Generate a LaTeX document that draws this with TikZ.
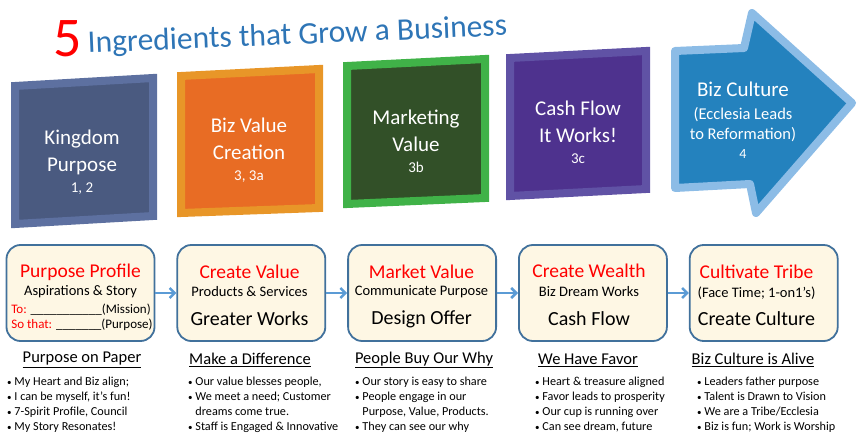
\documentclass[tikz,border=0pt]{standalone}
\usepackage{fontspec}
\setmainfont{Carlito}
\usetikzlibrary{positioning}
\usetikzlibrary{arrows.meta}

\definecolor{titleblue}{RGB}{46,117,182}
\definecolor{kpout}{RGB}{93,112,160}
\definecolor{kpin}{RGB}{74,90,128}
\definecolor{bvout}{RGB}{232,150,40}
\definecolor{bvin}{RGB}{232,108,36}
\definecolor{mvout}{RGB}{64,178,72}
\definecolor{mvin}{RGB}{50,80,40}
\definecolor{cfout}{RGB}{96,82,165}
\definecolor{cfin}{RGB}{78,50,142}
\definecolor{bcout}{RGB}{140,188,230}
\definecolor{bcin}{RGB}{36,130,190}
\definecolor{cardfill}{RGB}{254,247,228}
\definecolor{cardline}{RGB}{65,113,156}
\definecolor{flowblue}{RGB}{91,155,213}

\newcommand\bul{{\fontsize{9}{9}\selectfont\raisebox{0.6pt}{•}}\ }
\newcommand\nobul{\phantom{\bul}}

\begin{document}
\begin{tikzpicture}[x=1pt,y=-1pt,
  tile/.style={line width=8pt,line join=miter},
  tiletext/.style={text=white,align=center,inner sep=0pt,font=\fontsize{21}{27}\selectfont},
  card/.style={draw=cardline,fill=cardfill,line width=1.8pt,rounded corners=14pt,minimum width=148pt,minimum height=96pt,inner sep=0pt},
  redhead/.style={text=red,inner sep=0pt,font=\fontsize{19.5}{22}\selectfont},
  subline/.style={inner sep=0pt,font=\fontsize{14.5}{17}\selectfont},
  bigline/.style={inner sep=0pt,font=\fontsize{20}{23}\selectfont},
  heading/.style={inner sep=0pt,font=\fontsize{16.5}{19}\selectfont},
  bullets/.style={anchor=north west,align=left,inner sep=0pt,font=\fontsize{12.2}{15}\selectfont},
  flow/.style={draw=flowblue,line width=2.5pt,-{Straight Barb[length=5pt,width=10pt]}}]
\useasboundingbox (0,0) rectangle (859,441);

% title
\node(five)[anchor=base,text=red,inner sep=0pt,font=\fontsize{56}{56}\selectfont] at (68,57) {5};
\node(title)[anchor=base west,rotate=2.4,text=titleblue,inner sep=0pt,font=\fontsize{31.5}{32}\selectfont] at (88,53) {Ingredients that Grow a Business};

% the five ingredients
\draw[tile,draw=kpout,fill=kpin] (15,86)--(153,78)--(153,216)--(15,224)--cycle;
\draw[tile,draw=bvout,fill=bvin] (181,76)--(319,69)--(319,208)--(181,213)--cycle;
\draw[tile,draw=mvout,fill=mvin] (347,66)--(485,59)--(485,198)--(347,204)--cycle;
\draw[tile,draw=cfout,fill=cfin] (510,58)--(646,51)--(646,189)--(510,196)--cycle;
\draw[tile,line join=round,draw=bcout,fill=bcin] (675,51)--(744,48)--(752,13)--(852,103)--(756,213)--(750,184)--(675,188)--cycle;

\node(kp)[tiletext] at (82,162) {Kingdom\\Purpose\\[-6pt]\fontsize{15}{18}\selectfont 1, 2};
\node(bv)[tiletext] at (249,150) {Biz Value\\Creation\\[-6pt]\fontsize{15}{18}\selectfont 3, 3a};
\node(mv)[tiletext] at (416,141) {Marketing\\Value\\[-6pt]\fontsize{15}{18}\selectfont 3b};
\node(cf)[tiletext] at (578,132) {Cash Flow\\It Works!\\[-6pt]\fontsize{15}{18}\selectfont 3c};
\node(bc)[tiletext] at (743,120.5) {Biz Culture\\[-4pt]\fontsize{16.5}{20}\selectfont (Ecclesia Leads\\[-7pt]\fontsize{16.5}{20}\selectfont to Reformation)\\[-8pt]\fontsize{14}{17}\selectfont 4};

% cards
\node(p1)[card] at (80.5,293) {};
\node(p2)[card, right=21pt of p1] {};
\node(p3)[card, right=21pt of p2] {};
\node(p4)[card, right=21pt of p3] {};
\node(p5)[card, right=21pt of p4] {};

\draw[flow] (p1)--(p2);
\draw[flow] (p2)--(p3);
\draw[flow] (p3)--(p4);
\draw[flow] (p4)--(p5);

\node(p1a)[redhead] at (80.5,272) {Purpose Profile};
\node(p1b)[subline] at (80.5,292) {Aspirations \& Story};
\node(p1c)[inner sep=0pt,font=\fontsize{13}{15}\selectfont] at (81,310) {{\color{red}To:} \_\_\_\_\_\_\_\_\_\_\_(Mission)};
\node(p1d)[inner sep=0pt,font=\fontsize{13}{15}\selectfont] at (82,325) {{\color{red}So that:} \_\_\_\_\_\_\_(Purpose)};

\node(p2a)[redhead] at (249.5,272) {Create Value};
\node(p2b)[subline] at (249.5,292) {Products \& Services};
\node(p2c)[bigline] at (249.5,319) {Greater Works};

\node(p3a)[redhead] at (421.5,272) {Market Value};
\node(p3b)[subline] at (421.5,292) {Communicate Purpose};
\node(p3c)[bigline] at (421.5,319) {Design Offer};

\node(p4a)[redhead] at (589,271) {Create Wealth};
\node(p4b)[subline] at (589,292) {Biz Dream Works};
\node(p4c)[bigline] at (589,319) {Cash Flow};

\node(p5a)[redhead] at (756.5,272) {Cultivate Tribe};
\node(p5b)[subline] at (756.5,293) {(Face Time; 1-on1’s)};
\node(p5c)[bigline] at (756.5,319) {Create Culture};

% what it looks like
\node(h1)[heading] at (82,360) {\underline{Purpose on Paper}};
\node(h2)[heading] at (250,360) {\underline{Make a Difference}};
\node(h3)[heading] at (424,360) {\underline{People Buy Our Why}};
\node(h4)[heading] at (588,360) {\underline{We Have Favor}};
\node(h5)[heading] at (753,360) {\underline{Biz Culture is Alive}};

\node(l1)[bullets] at (7,377) {\bul My Heart and Biz align;\\\bul I can be myself, it’s fun!\\\bul 7-Spirit Profile, Council\\\bul My Story Resonates!};
\node(l2)[bullets] at (188,377) {\bul Our value blesses people,\\\bul We meet a need; Customer\\\nobul dreams come true.\\\bul Staff is Engaged \& Innovative};
\node(l3)[bullets] at (355,377) {\bul Our story is easy to share\\\bul People engage in our\\\nobul Purpose, Value, Products.\\\bul They can see our why};
\node(l4)[bullets] at (535,377) {\bul Heart \& treasure aligned\\\bul Favor leads to prosperity\\\bul Our cup is running over\\\bul Can see dream, future};
\node(l5)[bullets] at (697,377) {\bul Leaders father purpose\\\bul Talent is Drawn to Vision\\\bul We are a Tribe/Ecclesia\\\bul Biz is fun; Work is Worship};
\end{tikzpicture}
\end{document}
